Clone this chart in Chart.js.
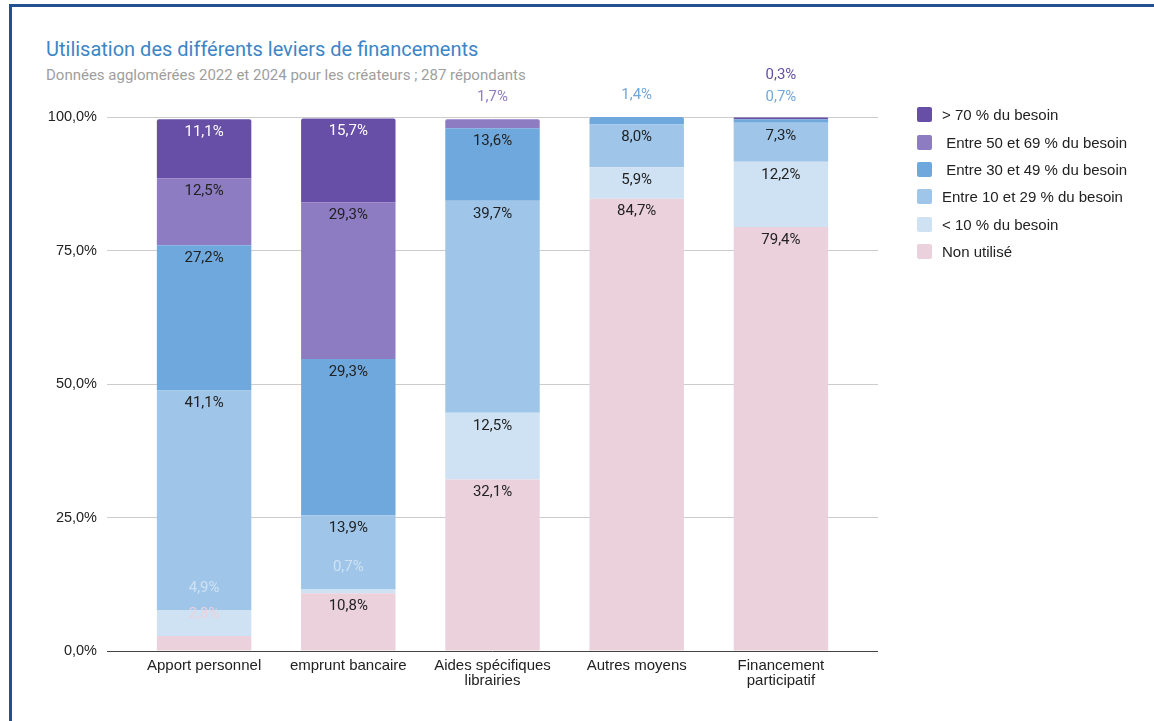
<!DOCTYPE html>
<html>
<head>
<meta charset="utf-8">
<script src="https://cdn.jsdelivr.net/npm/chart.js@4.4.0/dist/chart.umd.min.js"></script>
<style>
  body { margin: 0; background: #fff; }
  #wrap { position: relative; width: 1154px; height: 721px; overflow: hidden; }
  #frame { position: absolute; left: 9px; top: 4px; width: 1200px; height: 800px; border-top: 3px solid #24508f; border-left: 3px solid #24508f; }
  #title { position: absolute; left: 46px; top: 37px; font: 20px Roboto, sans-serif; color: #3d85c6; white-space: nowrap; }
  #subtitle { position: absolute; left: 46px; top: 66px; font: 15px Roboto, sans-serif; color: #9e9e9e; white-space: nowrap; }
  #myChart { position: absolute; left: 0; top: 0; }
  #legend { position: absolute; left: 917px; top: 101px; font: 15px "Liberation Sans", Arial, sans-serif; color: #222; }
  .item { height: 27.4px; display: flex; align-items: center; white-space: pre; }
  .box { width: 15px; height: 15px; border-radius: 2px; margin-right: 10px; flex: none; }
</style>
</head>
<body>
<div id="wrap">
  <div id="frame"></div>
  <div id="title">Utilisation des différents leviers de financements</div>
  <div id="subtitle">Données agglomérées 2022 et 2024 pour les créateurs ; 287 répondants</div>
  <canvas id="myChart" width="1154" height="721"></canvas>
  <div id="legend"></div>
</div>
<script>
// categories (x axis)
var categories = [
  'Apport personnel',
  'emprunt bancaire',
  ['Aides spécifiques', 'librairies'],
  'Autres moyens',
  ['Financement', 'participatif']
];

// series, bottom to top of each stack
var seriesNames = ['Non utilisé', '< 10 % du besoin', 'Entre 10 et 29 % du besoin',
  ' Entre 30 et 49 % du besoin', ' Entre 50 et 69 % du besoin', '> 70 % du besoin'];
var seriesColors = ['#ead1dc', '#cfe2f3', '#9fc5e8', '#6fa8dc', '#8e7cc3', '#674ea7'];

var nonUtilise  = [2.8, 10.8, 32.1, 84.7, 79.4];
var moins10     = [4.9, 0.7, 12.5, 5.9, 12.2];
var entre10_29  = [41.1, 13.9, 39.7, 8.0, 7.3];
var entre30_49  = [27.2, 29.3, 13.6, 1.4, 0.7];
var entre50_69  = [12.5, 29.3, 1.7, 0, 0];
var plus70      = [11.1, 15.7, 0, 0, 0.3];

var yTicks = [0, 25, 50, 75, 100];

var seriesValues = [nonUtilise, moins10, entre10_29, entre30_49, entre50_69, plus70];

function pct(v) {
  return v.toFixed(1).replace('.', ',') + '%';
}

var datasets = seriesNames.map(function (name, i) {
  return {
    label: name,
    data: seriesValues[i],
    backgroundColor: seriesColors[i],
    borderWidth: 0,
    borderRadius: 2,
    borderSkipped: 'bottom',
    categoryPercentage: 1,
    barPercentage: 0.655
  };
});

// legend, top series first
var legend = document.getElementById('legend');
for (var i = seriesNames.length - 1; i >= 0; i--) {
  var row = document.createElement('div');
  row.className = 'item';
  row.innerHTML = '<span class="box" style="background:' + seriesColors[i] + '"></span><span>' + seriesNames[i] + '</span>';
  legend.appendChild(row);
}

function gridColor(ctx) {
  return ctx.tick && ctx.tick.value === 0 ? '#444' : '#cccccc';
}

var gridExtend = {
  id: 'gridExtend',
  beforeDatasetsDraw: function (chart) {
    var ctx = chart.ctx, area = chart.chartArea, y = chart.scales.y;
    ctx.save();
    y.ticks.forEach(function (t) {
      var py = Math.round(y.getPixelForValue(t.value) - 0.5) + 0.5;
      ctx.strokeStyle = t.value === 0 ? '#444' : '#cccccc';
      ctx.lineWidth = 1;
      ctx.beginPath();
      ctx.moveTo(area.right, py);
      ctx.lineTo(area.right + 25, py);
      ctx.stroke();
    });
    ctx.restore();
  }
};

var barLabels = {
  id: 'barLabels',
  afterDatasetsDraw: function (chart) {
    var ctx = chart.ctx;
    var lastSmall = {};
    ctx.save();
    ctx.font = '15px Roboto, sans-serif';
    ctx.textAlign = 'center';
    ctx.textBaseline = 'middle';
    chart.data.datasets.forEach(function (ds, di) {
      var meta = chart.getDatasetMeta(di);
      meta.data.forEach(function (bar, idx) {
        var v = ds.data[idx];
        if (!v) return;
        var h = Math.abs(bar.base - bar.y);
        if (h >= 28) {
          ctx.fillStyle = di === 5 ? '#ffffff' : '#222222';
          ctx.fillText(pct(v), bar.x, bar.y + 13);
        } else {
          var ly = bar.y - 22;
          if (lastSmall[idx] !== undefined && ly > lastSmall[idx] - 18) ly = lastSmall[idx] - 22;
          lastSmall[idx] = ly;
          ctx.fillStyle = ds.backgroundColor;
          ctx.fillText(pct(v), bar.x, ly);
        }
      });
    });
    ctx.restore();
  }
};

var ctx = document.getElementById('myChart').getContext('2d');
var chart = new Chart(ctx, {
  type: 'bar',
  data: { labels: categories, datasets: datasets },
  options: {
    responsive: false,
    animation: false,
    devicePixelRatio: 1,
    layout: { padding: { left: 0, top: 117, right: 301, bottom: 0 } },
    plugins: {
      legend: { display: false },
      title: { display: false },
      tooltip: { enabled: false }
    },
    scales: {
      x: {
        stacked: true,
        grid: { display: false, drawTicks: false },
        border: { display: false },
        ticks: {
          color: '#222',
          padding: 7,
          maxRotation: 0,
          autoSkip: false,
          font: { family: '"Liberation Sans", Arial, sans-serif', size: 15, lineHeight: 1.0 }
        },
        afterFit: function (s) { s.height = 70; }
      },
      y: {
        stacked: true,
        min: 0,
        max: 100,
        afterBuildTicks: function (s) { s.ticks = yTicks.map(function (v) { return { value: v }; }); },
        grid: { color: gridColor, tickColor: gridColor, drawTicks: true, tickLength: 25 },
        border: { display: false },
        ticks: {
          color: '#222',
          padding: 10,
          font: { family: '"Liberation Sans", Arial, sans-serif', size: 14.5 },
          callback: function (v) { return pct(v); }
        },
        afterFit: function (s) { s.width = 132; }
      }
    }
  },
  plugins: [gridExtend, barLabels]
});
</script>
</body>
</html>
